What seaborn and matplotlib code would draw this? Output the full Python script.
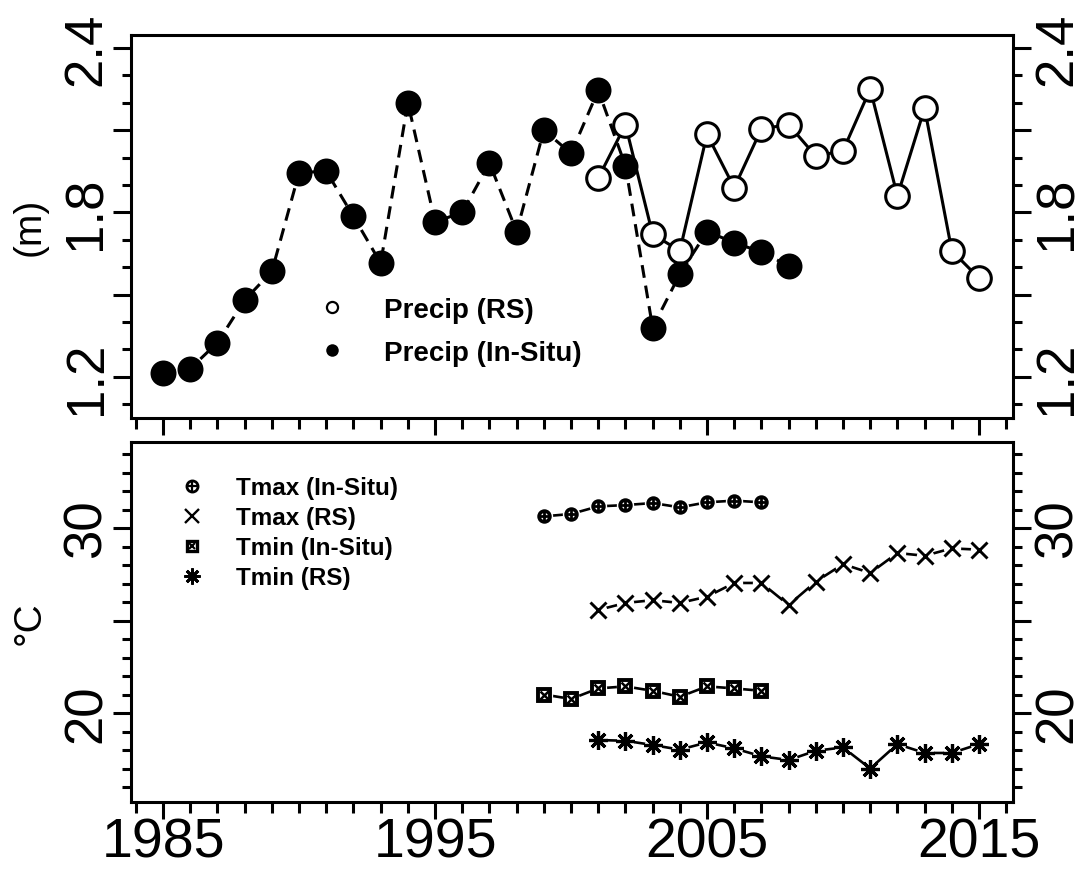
import seaborn as sns
import matplotlib
matplotlib.use("Agg")
import matplotlib.pyplot as plt
from matplotlib.lines import Line2D
from matplotlib.ticker import MultipleLocator, FixedLocator, FuncFormatter

# precipitation (m)
years_precip_insitu = list(range(1985, 2009))
precip_insitu = [1.215, 1.23, 1.325, 1.48, 1.585, 1.945, 1.95, 1.785, 1.615, 2.20,
                 1.765, 1.80, 1.98, 1.73, 2.10, 2.015, 2.245, 1.97, 1.38, 1.575,
                 1.73, 1.69, 1.655, 1.605]
years_rs = list(range(2001, 2016))
precip_rs = [1.925, 2.12, 1.72, 1.66, 2.085, 1.89, 2.105, 2.12, 2.005, 2.025,
             2.25, 1.86, 2.18, 1.66, 1.56]

# temperature (deg C)
years_t_insitu = list(range(1999, 2008))
tmax_insitu = [30.63, 30.76, 31.17, 31.24, 31.35, 31.12, 31.39, 31.48, 31.39]
tmin_insitu = [21.0, 20.76, 21.33, 21.44, 21.2, 20.88, 21.44, 21.33, 21.2]
tmax_rs = [25.57, 25.95, 26.1, 25.95, 26.29, 27.03, 27.03, 25.84, 27.1, 28.05,
           27.57, 28.65, 28.5, 28.9, 28.83]
tmin_rs = [18.54, 18.5, 18.27, 18.02, 18.41, 18.09, 17.66, 17.46, 17.96, 18.14,
           17.0, 18.32, 17.84, 17.84, 18.32]

sns.set_theme(style="ticks")
plt.rcParams['font.family'] = ['Liberation Sans', 'DejaVu Sans']
plt.rcParams['axes.linewidth'] = 2.2
plt.rcParams['axes.edgecolor'] = 'black'
plt.rcParams['text.color'] = 'black'
plt.rcParams['xtick.color'] = 'black'
plt.rcParams['ytick.color'] = 'black'
plt.rcParams['axes.labelcolor'] = 'black'

fig = plt.figure(figsize=(10.81, 8.70), dpi=100)
ax1 = fig.add_axes([131 / 1081, 1 - 419 / 870, 882 / 1081, 383 / 870])
ax2 = fig.add_axes([131 / 1081, 1 - 803 / 870, 882 / 1081, 360 / 870])

# ---- top panel: precipitation
sns.lineplot(x=years_rs, y=precip_rs, ax=ax1, color='black', lw=2.2, zorder=2)
sns.lineplot(x=years_precip_insitu, y=precip_insitu, ax=ax1, color='black', lw=2.2,
             linestyle=(0, (4.2, 2.6)), zorder=2)
ax1.plot(years_rs, precip_rs, ls='none', marker='o', ms=17, mfc='white', mec='black',
         mew=2.2, zorder=4)
ax1.plot(years_precip_insitu, precip_insitu, ls='none', marker='o', ms=18.7, mfc='black',
         mec='black', mew=0, zorder=5)


def tseries(ax, x, y, markers, halo=12.5):
    sns.lineplot(x=x, y=y, ax=ax, color='black', lw=1.9, zorder=2)
    ax.plot(x, y, ls='none', marker='o', ms=halo, mfc='white', mec='white', mew=0, zorder=3)
    for m in markers:
        ax.plot(x, y, ls='none', zorder=4, **m)


circ = dict(marker='o', ms=7.8, mfc='white', mec='black', mew=2.6)
plus = dict(marker='+', ms=7.8, mec='black', mew=2.0)
cross = dict(marker='x', ms=11.5, mec='black', mew=2.1)
sq = dict(marker='s', ms=8, mfc='white', mec='black', mew=2.8)
sqx = dict(marker='x', ms=5.5, mec='black', mew=1.8)
star = dict(marker=(8, 2, 0), ms=13.5, mec='black', mew=2.3)

tseries(ax2, years_t_insitu, tmax_insitu, [circ, plus])
tseries(ax2, years_rs, tmax_rs, [cross])
tseries(ax2, years_t_insitu, tmin_insitu, [sq, sqx])
tseries(ax2, years_rs, tmin_rs, [star])

# ---- axes styling
ax1.set_ylim(1.05, 2.447)
ax2.set_ylim(15.19, 34.65)
for ax in (ax1, ax2):
    ax.set_xlim(1983.82, 2016.25)
    ax.set_xlabel('')
    ax.set_ylabel('')
    ax.xaxis.set_major_locator(FixedLocator([1985, 1995, 2005, 2015]))
    ax.xaxis.set_minor_locator(MultipleLocator(1))
    ax.tick_params(axis='both', which='both', direction='out', width=2.2, color='black')
    ax.tick_params(axis='x', which='major', length=12.5, bottom=True, top=False)
    ax.tick_params(axis='x', which='minor', length=7.7, bottom=True, top=False)
    ax.tick_params(axis='y', which='major', length=13, left=True, right=True,
                   labelleft=True, labelright=True, labelsize=38, labelrotation=90, pad=1)
    ax.tick_params(axis='y', which='minor', length=6.3, left=True, right=True)

ax1.yaxis.set_major_locator(MultipleLocator(0.3))
ax1.yaxis.set_minor_locator(MultipleLocator(0.1))
ax1.yaxis.set_major_formatter(FuncFormatter(
    lambda v, p: f'{v:.1f}' if round(v * 10) in (12, 18, 24) else ''))
ax1.tick_params(axis='x', labelbottom=False)

ax2.yaxis.set_major_locator(MultipleLocator(5))
ax2.yaxis.set_minor_locator(MultipleLocator(1))
ax2.yaxis.set_major_formatter(FuncFormatter(
    lambda v, p: f'{v:.0f}' if round(v) in (20, 30) else ''))
ax2.tick_params(axis='x', which='major', labelsize=40, pad=-2)

for ax in (ax1, ax2):
    for t in ax.yaxis.get_major_ticks():
        t.label1.set_va('center')
        t.label2.set_va('center')

fig.text(30 / 1081, 1 - 227 / 870, '(m)', rotation=90, ha='center', va='center', fontsize=28)
fig.text(30 / 1081, 1 - 623 / 870, '°C', rotation=90, ha='center', va='center', fontsize=28)

# ---- legends
h_rs = Line2D([], [], ls='none', marker='o', ms=8, mfc='white', mec='black', mew=1.6)
h_in = Line2D([], [], ls='none', marker='o', ms=9, mfc='black', mec='black', mew=0)
ax1.legend([h_rs, h_in], ['Precip (RS)', 'Precip (In-Situ)'], loc='upper left',
           bbox_to_anchor=(0.212, 0.316), frameon=False, borderpad=0, borderaxespad=0,
           handlelength=1.0, handletextpad=1.37, labelspacing=0.62,
           prop={'weight': 'bold', 'size': 20})

lh = [
    (Line2D([], [], ls='none', marker='o', ms=8, mfc='white', mec='black', mew=2.0),
     Line2D([], [], ls='none', marker='+', ms=8, mec='black', mew=1.6)),
    Line2D([], [], ls='none', marker='x', ms=9.5, mec='black', mew=1.7),
    (Line2D([], [], ls='none', marker='s', ms=7.5, mfc='white', mec='black', mew=2.4),
     Line2D([], [], ls='none', marker='x', ms=5, mec='black', mew=1.5)),
    Line2D([], [], ls='none', marker=(8, 2, 0), ms=11.5, mec='black', mew=2.0),
]
ax2.legend(lh, ['Tmax (In-Situ)', 'Tmax (RS)', 'Tmin (In-Situ)', 'Tmin (RS)'],
           loc='upper left', bbox_to_anchor=(0.0553, 0.905), frameon=False, borderpad=0,
           borderaxespad=0, handlelength=1.0, handletextpad=1.31, labelspacing=0.29,
           prop={'weight': 'bold', 'size': 17.5})

fig.savefig('out.png', dpi=100, facecolor='white')
